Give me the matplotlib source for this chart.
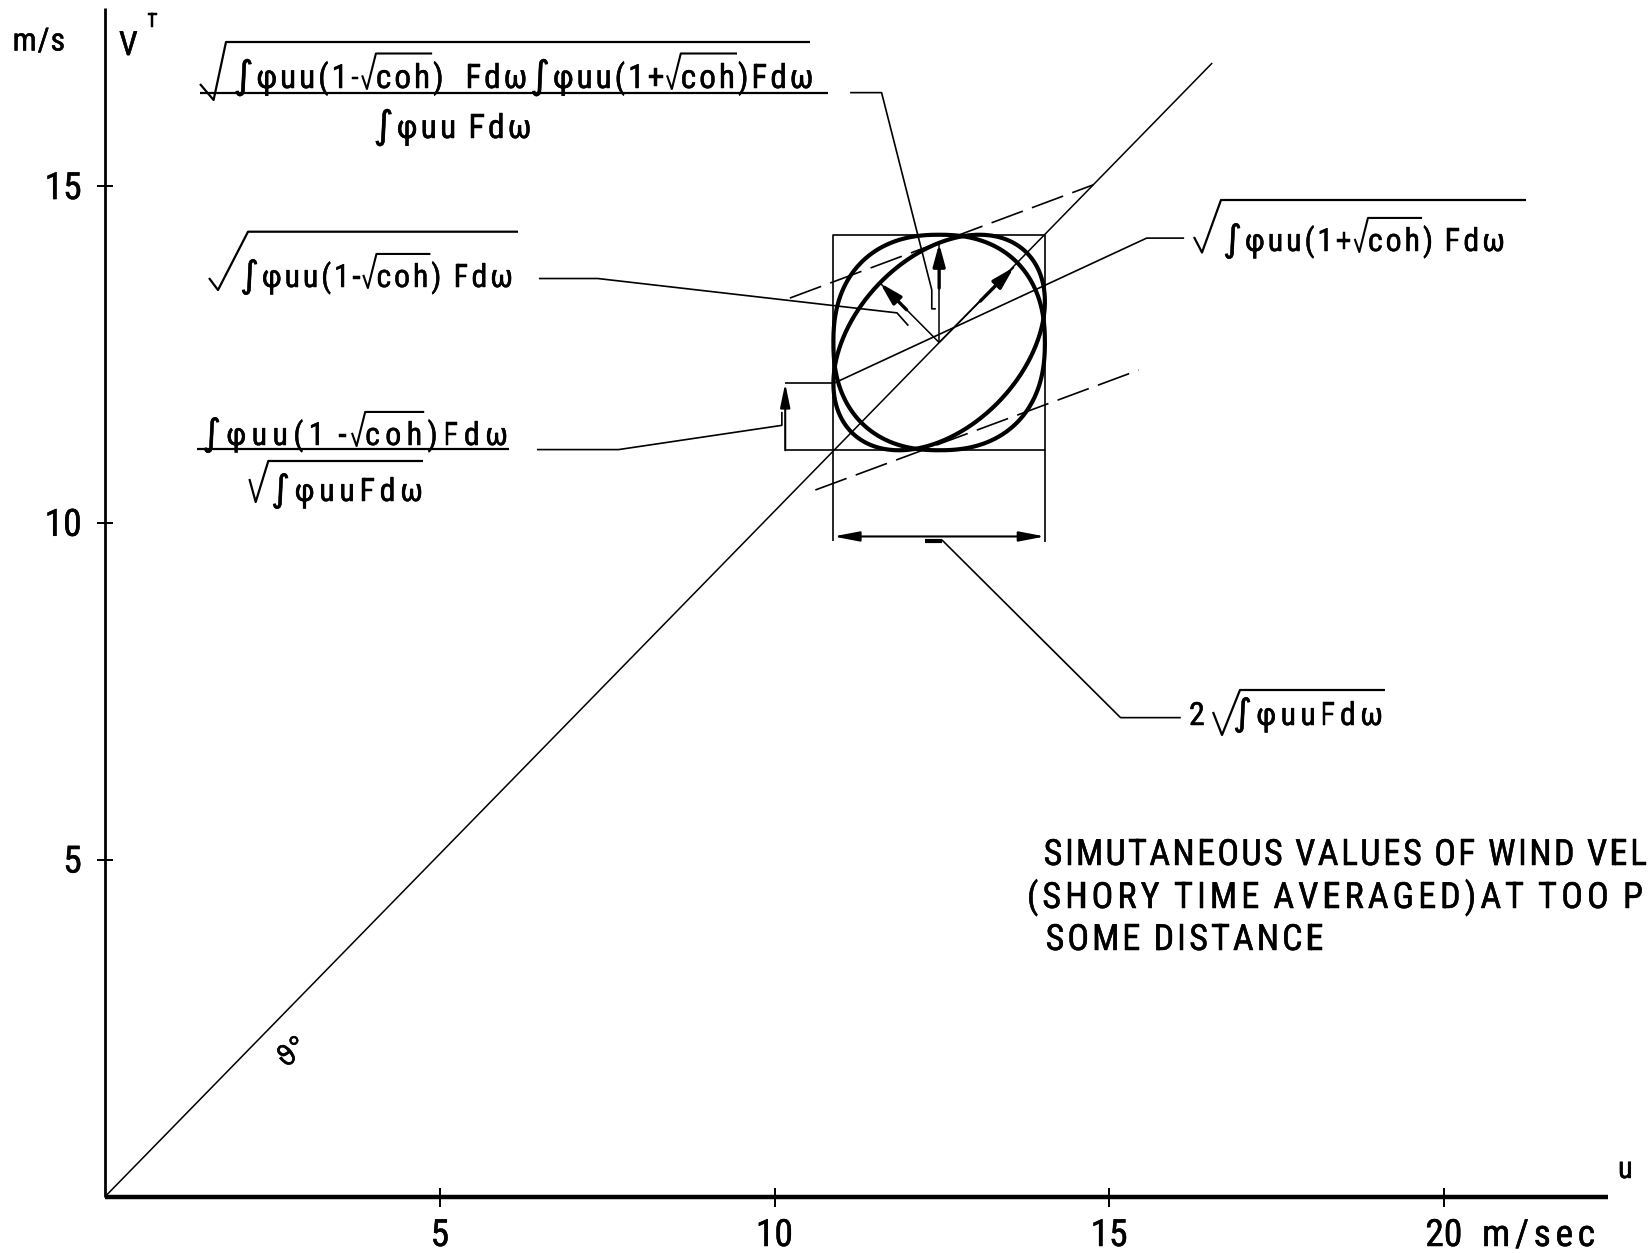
"""
Joint distribution of simultaneous wind speeds at two points:
1:1 line, sigma box, correlation ellipse and the spectral formulas.
"""

import numpy as np
import matplotlib
matplotlib.use("Agg")
import matplotlib.pyplot as plt
import matplotlib.patheffects as pe
from matplotlib import font_manager as fm
from matplotlib.font_manager import FontProperties

# ── Fonts: narrow stencil-like lettering if available ─────────────────────────
names = {f.name for f in fm.fontManager.ttflist}
NARROW = next((n for n in ("Liberation Sans Narrow", "DejaVu Sans Condensed",
                           "Roboto Condensed") if n in names), "DejaVu Sans")
FAMILY = [NARROW, "DejaVu Sans"]
plt.rcParams["font.family"] = FAMILY
plt.rcParams["lines.scale_dashes"] = False
plt.rcParams["lines.solid_capstyle"] = "butt"
PEN = [pe.withStroke(linewidth=0.35, foreground="black")]

# ── Data (m/s) ────────────────────────────────────────────────────────────────
u_ticks = [5, 10, 15, 20]
v_ticks = [5, 10, 15]
u_axis_end = 22.45
v_axis_end = 17.64
diag_end = [16.54, 16.83]

mean_u, mean_v = 12.46, 12.68
sig_u, sig_v = 1.58, 1.60
rho = 0.38
square_p = 2.3

arrow_ang = [135, 90, 45]
arrow_len = [1.25, 1.47, 1.58]

dash_hi_u, dash_hi_v = [10.23, 14.76], [13.34, 15.02]
dash_lo_u, dash_lo_v = [10.61, 15.44], [10.49, 12.27]
conj_end = [15.56, 14.23]
dim_v = 9.80
left_dim_u = 10.16

lead_top_u = [11.13, 11.60, 12.35, 12.35, 12.41]
lead_top_v = [16.39, 16.39, 13.46, 13.18, 13.18]
lead_2_u = [6.48, 7.36, 11.83, 12.0]
lead_2_v = [13.63, 13.63, 13.12, 12.93]
lead_3_u = [6.45, 7.67, 10.11, 10.11]
lead_3_v = [11.09, 11.09, 11.45, 11.65]
lead_4_u = [conj_end[0], 16.12]
lead_5_u = [12.5, 15.17, 16.07]
lead_5_v = [9.75, 7.11, 7.11]

note_lines = ["SIMUTANEOUS VALUES OF WIND VEL",
              "(SHORY TIME AVERAGED)AT TOO P",
              "SOME DISTANCE"]

# formula pieces; a nested list is drawn under a root sign
F1_num = ["∫φuu(1-", ["coh"], ")  Fdω∫φuu(1+", ["coh"], ")Fdω"]
F1_den = ["∫φuu Fdω"]
F2 = ["∫φuu(1-", ["coh"], ") Fdω"]
F3_num = ["∫φuu(1 -", ["coh"], ")Fdω"]
F3_den = ["∫φuuFdω"]
F4 = ["∫φuu(1+", ["coh"], ") Fdω"]
F5 = ["∫φuuFdω"]

# ── Figure ────────────────────────────────────────────────────────────────────
W, H = 1650, 1253
K = "black"
fig = plt.figure(figsize=(W / 100, H / 100), dpi=100, facecolor="white")

# data axes: origin at (105.2, 1196.5) px, 66.93 / 67.35 px per m/s
ox, oy, sx, sy = 105.2, 1196.5, 66.93, 67.35
ax = fig.add_axes([0, 0, 1, 1])
ax.axis("off")
ax.set_xlim(-ox / sx, (W - ox) / sx)
ax.set_ylim(-(H - oy) / sy, oy / sy)

# pixel overlay for the lettering
px = fig.add_axes([0, 0, 1, 1])
px.axis("off")
px.patch.set_visible(False)
px.set_xlim(0, W)
px.set_ylim(H, 0)

REN = fig.canvas.get_renderer()
_wcache = {}


def glyph_font(ch, size):
    # the integral sign is taken from DejaVu, which draws it tall
    if ch == "∫":
        return ["DejaVu Sans"], size * 1.15
    return FAMILY, size


def ink(ch, size):
    key = (ch, size)
    if key not in _wcache:
        fam, sz = glyph_font(ch, size)
        w, _, _ = REN.get_text_width_height_descent(
            ch, FontProperties(family=fam, size=sz), ismath=False)
        _wcache[key] = w
    return _wcache[key]


def letter(x, y, s, size, **kw):
    fam, sz = glyph_font(s, size)
    px.text(x, y, s, fontsize=sz, ha="left", va="baseline", family=fam,
            color=K, path_effects=PEN, **kw)


def lay(items, x, base, size, track, draw, lw=1.5):
    em = size * 100 / 72
    cap = 0.69 * em
    for it in items:
        if isinstance(it, str):
            for ch in it:
                if ch == " ":
                    x += 0.28 * em
                    continue
                if draw:
                    letter(x, base, ch, size)
                x += ink(ch, size) + track
        else:
            rw = 0.6 * cap
            x0 = x
            x = lay(it, x + rw, base, size, track, draw, lw)
            if draw:
                bar = base - 1.5 * cap
                px.plot([x0, x0 + 0.35 * rw, x0 + rw, x - track + 2],
                        [base - 0.55 * cap, base + 1, bar, bar], color=K, lw=lw)
    return x


def fit(items, x0, x1, base, size, lw=1.5):
    # spread the glyphs so the ink runs from x0 to x1
    a = lay(items, 0, base, size, 0.0, False)
    n = lay(items, 0, base, size, 1.0, False) - a
    t = (x1 - x0 - a) / max(n - 1, 1)
    lay(items, x0, base, size, t, True, lw)


def root(xs, ys, lw=1.6):
    px.plot(xs, ys, color=K, lw=lw)


# ── Axes ──────────────────────────────────────────────────────────────────────
ax.plot([0, u_axis_end], [0, 0], color=K, lw=3.2)
ax.plot([0, 0], [0, v_axis_end], color=K, lw=2.0)
for t in u_ticks:
    ax.plot([t, t], [-0.15, 0.13], color=K, lw=1.4)
for t in v_ticks:
    ax.plot([-0.12, 0.12], [t, t], color=K, lw=1.4)

for t in u_ticks:
    ax.text(t, -0.735, str(t), fontsize=27, ha="center", va="baseline",
            path_effects=PEN)
for t in v_ticks:
    ax.text(-0.35, t - 0.19, str(t), fontsize=27, ha="right", va="baseline",
            path_effects=PEN)

fit(["m/sec"], 1482, 1595, 1246, 27)
fit(["m/s"], 12.6, 65, 50.5, 23)
letter(119, 55, "V", 24)
letter(147, 27, "T", 14)
letter(1618, 1178, "u", 22)

# 1:1 line
ax.plot([0, diag_end[0]], [0, diag_end[1]], color=K, lw=1.1)
ax.text(2.8, 2.14, "ϑ°", rotation=40, fontsize=20, ha="center", va="center",
        family=["DejaVu Sans"], path_effects=PEN)

# ── Sigma box, ellipse, rounded square ────────────────────────────────────────
lo_u, hi_u = mean_u - sig_u, mean_u + sig_u
lo_v, hi_v = mean_v - sig_v, mean_v + sig_v
tan_v = mean_v - rho * sig_v

ax.plot([lo_u, hi_u, hi_u, lo_u, lo_u], [lo_v, lo_v, hi_v, hi_v, lo_v],
        color=K, lw=1.2)
ax.plot([lo_u, lo_u], [dim_v - 0.06, lo_v], color=K, lw=1.2)
ax.plot([hi_u, hi_u], [dim_v - 0.08, lo_v], color=K, lw=1.2)
ax.plot([left_dim_u, lo_u], [lo_v, lo_v], color=K, lw=1.2)
ax.plot([left_dim_u, lo_u], [tan_v, tan_v], color=K, lw=1.2)

t = np.linspace(0, 2 * np.pi, 600)
ax.plot(mean_u + sig_u * np.cos(t),
        mean_v + sig_v * np.cos(t - np.arccos(rho)), color=K, lw=3.0)
c, s = np.cos(t), np.sin(t)
ax.plot(mean_u + sig_u * np.sign(c) * np.abs(c) ** (2 / square_p),
        mean_v + sig_v * np.sign(s) * np.abs(s) ** (2 / square_p), color=K, lw=3.0)

# regression-type lines
ax.plot(dash_hi_u, dash_hi_v, color=K, lw=1.2, dashes=(24, 7))
ax.plot(dash_lo_u, dash_lo_v, color=K, lw=1.2, dashes=(24, 7))
ax.plot([lo_u, conj_end[0], lead_4_u[1]], [tan_v, conj_end[1], conj_end[1]],
        color=K, lw=1.2)

# arrows from the centre
for ang, L in zip(arrow_ang, arrow_len):
    cu, cv = np.cos(np.radians(ang)), np.sin(np.radians(ang))
    tip = (mean_u + L * cu, mean_v + L * cv)
    ax.plot([mean_u, tip[0]], [mean_v, tip[1]], color=K, lw=1.1)
    ax.annotate("", xy=tip, xytext=(mean_u + 0.55 * L * cu, mean_v + 0.55 * L * cv),
                arrowprops=dict(arrowstyle="-|>,head_length=1.1,head_width=0.3",
                                mutation_scale=12, lw=2.4, color=K,
                                shrinkA=0, shrinkB=0))

# dimension arrows
ax.annotate("", xy=(lo_u, dim_v), xytext=(hi_u, dim_v),
            arrowprops=dict(arrowstyle="<|-|>,head_length=1.3,head_width=0.25",
                            mutation_scale=12, lw=1.5, color=K, shrinkA=0, shrinkB=0))
ax.plot([mean_u - 0.21, mean_u + 0.04], [dim_v - 0.07, dim_v - 0.07], color=K, lw=3)
ax.annotate("", xy=(left_dim_u, tan_v), xytext=(left_dim_u, lo_v),
            arrowprops=dict(arrowstyle="-|>,head_length=1.2,head_width=0.25",
                            mutation_scale=12, lw=1.5, color=K, shrinkA=0, shrinkB=0))

# leader lines
ax.plot(lead_top_u, lead_top_v, color=K, lw=1.2)
ax.plot(lead_2_u, lead_2_v, color=K, lw=1.2)
ax.plot(lead_3_u, lead_3_v, color=K, lw=1.2)
ax.plot(lead_5_u, lead_5_v, color=K, lw=1.2)

# ── Formulas ──────────────────────────────────────────────────────────────────
root([200, 213.6, 226, 810], [84, 100, 42, 42])
fit(F1_num, 233.6, 813.4, 88, 24)
px.plot([200, 828], [92.6, 92.6], color=K, lw=1.6)
fit(F1_den, 373.6, 531.4, 138, 24)

root([209, 218, 248, 518], [278, 290, 231.7, 231.7])
fit(F2, 240, 513, 287, 23)

fit(F3_num, 202, 508, 445, 23)
px.plot([197, 509], [449, 449], color=K, lw=1.6)
root([249.4, 255.7, 268.3, 423], [479, 502, 461, 461])
fit(F3_den, 271, 423, 501, 23)

root([1194, 1202, 1221, 1526], [237, 252.5, 200, 200])
fit(F4, 1223, 1505, 251, 23)

letter(1189, 725, "2", 23)
root([1213, 1222, 1240, 1385], [712, 735, 690, 690])
fit(F5, 1233, 1383, 725, 23)

# ── Note ──────────────────────────────────────────────────────────────────────
fit([note_lines[0]], 1043.6, 1647, 865, 26)
fit([note_lines[1]], 1027, 1643, 908, 26)
fit([note_lines[2]], 1045.6, 1323.6, 950, 26)

fig.savefig("out.png", dpi=100, facecolor="white")
